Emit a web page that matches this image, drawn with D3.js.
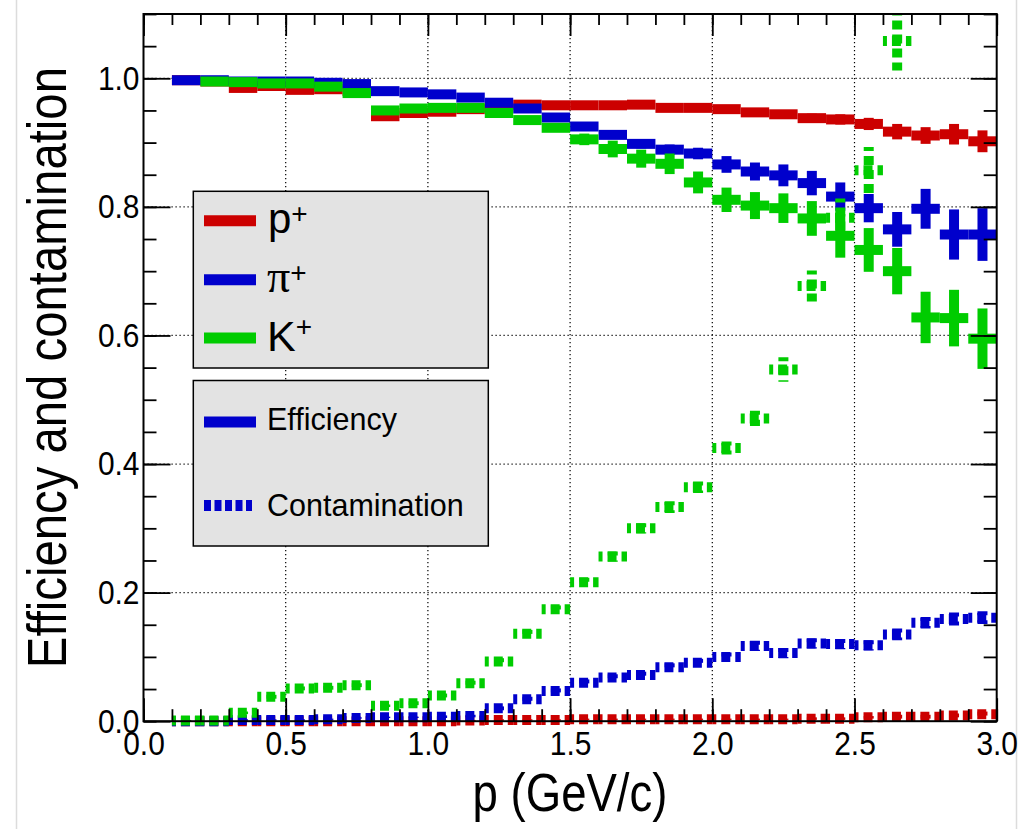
<!DOCTYPE html>
<html>
<head>
<meta charset="utf-8">
<script src="https://cdn.jsdelivr.net/npm/d3@7"></script>
<style>
  html, body { margin: 0; padding: 0; background: #fff; }
  svg { display: block; font-family: "Liberation Sans", Arial, sans-serif; }
</style>
</head>
<body>
<svg id="chart" width="1019" height="829"></svg>
<script>
// Momentum bin centres (GeV/c); every bin is 0.1 GeV/c wide
const momentum = [0.15, 0.25, 0.35, 0.45, 0.55, 0.65, 0.75, 0.85, 0.95, 1.05,
                  1.15, 1.25, 1.35, 1.45, 1.55, 1.65, 1.75, 1.85, 1.95, 2.05,
                  2.15, 2.25, 2.35, 2.45, 2.55, 2.65, 2.75, 2.85, 2.95];
const binHalfWidth = 0.05;

// Identification efficiency and its uncertainty
const protonEff    = [0.997, 0.995, 0.985, 0.988, 0.982, 0.983, 0.980, 0.941, 0.946, 0.948,
                      0.952, 0.955, 0.959, 0.958, 0.958, 0.958, 0.959, 0.954, 0.954, 0.952,
                      0.947, 0.944, 0.938, 0.936, 0.929, 0.917, 0.911, 0.913, 0.902];
const protonEffErr = [0.001, 0.001, 0.001, 0.001, 0.001, 0.001, 0.001, 0.002, 0.002, 0.002,
                      0.002, 0.002, 0.002, 0.003, 0.003, 0.003, 0.003, 0.004, 0.004, 0.005,
                      0.005, 0.006, 0.007, 0.008, 0.0095, 0.012, 0.013, 0.016, 0.017];
const pionEff      = [0.997, 0.997, 0.995, 0.995, 0.995, 0.993, 0.991, 0.980, 0.978, 0.975,
                      0.970, 0.962, 0.953, 0.939, 0.925, 0.912, 0.898, 0.889, 0.883, 0.866,
                      0.855, 0.849, 0.837, 0.816, 0.798, 0.765, 0.797, 0.757, 0.757];
const pionEffErr   = [0.001, 0.001, 0.001, 0.001, 0.001, 0.001, 0.001, 0.002, 0.002, 0.002,
                      0.002, 0.003, 0.003, 0.004, 0.004, 0.006, 0.007, 0.008, 0.009, 0.013,
                      0.014, 0.017, 0.019, 0.022, 0.022, 0.027, 0.031, 0.039, 0.041];
const kaonEff      = [null,  0.995, 0.994, 0.992, 0.992, 0.987, 0.977, 0.950, 0.953, 0.954,
                      0.954, 0.946, 0.935, 0.923, 0.905, 0.890, 0.875, 0.867, 0.838, 0.811,
                      0.802, 0.798, 0.782, 0.755, 0.733, 0.700, 0.628, 0.627, 0.595];
const kaonEffErr   = [0.001, 0.001, 0.001, 0.001, 0.001, 0.001, 0.001, 0.002, 0.002, 0.002,
                      0.003, 0.003, 0.004, 0.006, 0.009, 0.013, 0.014, 0.016, 0.017, 0.019,
                      0.021, 0.023, 0.027, 0.034, 0.034, 0.036, 0.040, 0.044, 0.047];

// Contamination of each selected sample and its uncertainty
const protonCont    = [0.000, 0.000, 0.000, 0.000, 0.000, 0.000, 0.000, 0.000, 0.000, 0.000,
                       0.001, 0.002, 0.002, 0.002, 0.003, 0.003, 0.003, 0.003, 0.003, 0.003,
                       0.003, 0.003, 0.004, 0.004, 0.006, 0.007, 0.007, 0.009, 0.011];
const protonContErr = [0.001, 0.001, 0.001, 0.001, 0.001, 0.001, 0.001, 0.001, 0.001, 0.001,
                       0.001, 0.001, 0.001, 0.001, 0.001, 0.001, 0.001, 0.001, 0.001, 0.001,
                       0.001, 0.001, 0.002, 0.002, 0.002, 0.003, 0.003, 0.003, 0.004];
const pionCont      = [0.000, 0.000, 0.002, 0.002, 0.002, 0.003, 0.005, 0.006, 0.006, 0.007,
                       0.008, 0.020, 0.034, 0.047, 0.060, 0.068, 0.072, 0.084, 0.091, 0.100,
                       0.117, 0.106, 0.121, 0.120, 0.118, 0.135, 0.153, 0.159, 0.161];
const pionContErr   = [0.001, 0.001, 0.001, 0.001, 0.001, 0.001, 0.001, 0.001, 0.001, 0.002,
                       0.002, 0.003, 0.004, 0.004, 0.005, 0.005, 0.005, 0.006, 0.006, 0.007,
                       0.008, 0.008, 0.008, 0.008, 0.008, 0.009, 0.009, 0.010, 0.010];
const kaonCont      = [0.001, 0.001, 0.013, 0.038, 0.051, 0.052, 0.056, 0.024, 0.028, 0.040,
                       0.059, 0.093, 0.136, 0.174, 0.216, 0.256, 0.300, 0.333, 0.364, 0.425,
                       0.471, 0.547, 0.677, 0.783, 0.857, 1.058, null,  null,  null];
const kaonContErr   = [0.001, 0.001, 0.002, 0.003, 0.003, 0.003, 0.003, 0.002, 0.003, 0.003,
                       0.004, 0.005, 0.006, 0.006, 0.007, 0.008, 0.008, 0.009, 0.009, 0.010,
                       0.012, 0.019, 0.024, 0.030, 0.036, 0.046, null,  null,  null];

const xTickValues = [0.0, 0.5, 1.0, 1.5, 2.0, 2.5, 3.0];
const yTickValues = [0.0, 0.2, 0.4, 0.6, 0.8, 1.0];

const colors = { proton: "#cc0000", pion: "#0000cc", kaon: "#00cc00" };

const svg = d3.select("#chart");
const W = 1019, H = 829;
const frame = { left: 143.5, right: 996.7, top: 14, bottom: 721.2 };

const x = d3.scaleLinear().domain([0, 3]).range([frame.left, frame.right]);
const y = d3.scaleLinear().domain([0, 1.1]).range([frame.bottom, frame.top]);

// canvas edges
svg.append("rect").attr("width", W).attr("height", H).attr("fill", "#fff");
[16.5, 1016.5].forEach(px => svg.append("line")
  .attr("x1", px).attr("x2", px).attr("y1", 0).attr("y2", H)
  .attr("stroke", "#dcdcdc").attr("stroke-width", 1.5));

// dotted grid at the major ticks
const grid = svg.append("g").attr("stroke", "#000").attr("stroke-width", 1.2)
  .attr("stroke-dasharray", "1.2,2.8");
grid.selectAll(null).data(xTickValues.filter(v => v > 0 && v < 3)).enter().append("line")
  .attr("x1", d => x(d)).attr("x2", d => x(d)).attr("y1", frame.top).attr("y2", frame.bottom);
grid.selectAll(null).data(yTickValues.filter(v => v > 0)).enter().append("line")
  .attr("x1", frame.left).attr("x2", frame.right).attr("y1", d => y(d)).attr("y2", d => y(d));

// clip marks at the top of the frame
svg.append("defs").append("clipPath").attr("id", "plotClip").append("rect")
  .attr("x", 0).attr("y", frame.top).attr("width", W).attr("height", H - frame.top);
const marks = svg.append("g").attr("clip-path", "url(#plotClip)");

function drawSeries(values, errors, color, dashed) {
  const pts = momentum.map((p, i) => ({ p, v: values[i], e: errors[i] }))
    .filter(d => d.v !== null);
  const g = marks.append("g")
    .attr("stroke", color).attr("stroke-width", 10).attr("stroke-linecap", "butt")
    .attr("fill", "none");
  if (dashed) g.attr("stroke-dasharray", "9,5").attr("stroke-dashoffset", 5);
  // vertical error bar
  g.selectAll(null).data(pts).enter().append("line")
    .attr("x1", d => x(d.p)).attr("x2", d => x(d.p))
    .attr("y1", d => y(d.v + d.e)).attr("y2", d => y(d.v - d.e));
  // horizontal bin-width bar
  g.selectAll(null).data(pts).enter().append("line")
    .attr("x1", d => x(d.p - binHalfWidth)).attr("x2", d => x(d.p + binHalfWidth))
    .attr("y1", d => y(d.v)).attr("y2", d => y(d.v));
}

drawSeries(protonEff, protonEffErr, colors.proton, false);
drawSeries(pionEff, pionEffErr, colors.pion, false);
drawSeries(kaonEff, kaonEffErr, colors.kaon, false);
drawSeries(protonCont, protonContErr, colors.proton, true);
drawSeries(pionCont, pionContErr, colors.pion, true);
drawSeries(kaonCont, kaonContErr, colors.kaon, true);

// axes: ticks point into the frame
const squeeze = 0.88;
const fmt = d3.format(".1f");
const xMinor = d3.range(0, 3.0001, 0.1);
const yMinor = d3.range(0, 1.1001, 0.05);

function styleAxis(g) {
  g.select(".domain").remove();
  g.selectAll("line").attr("stroke", "#000").attr("stroke-width", 1.8);
}

const gBottom = svg.append("g").attr("transform", `translate(0,${frame.bottom})`);
gBottom.append("g").call(d3.axisBottom(x).tickValues(xMinor).tickFormat("").tickSizeInner(-12).tickSizeOuter(0)).call(styleAxis);
gBottom.append("g").call(d3.axisBottom(x).tickValues(xTickValues).tickFormat(fmt)
  .tickSizeInner(-23).tickSizeOuter(0).tickPadding(10)).call(styleAxis)
  .selectAll("text").attr("font-size", 34).attr("font-family", "Liberation Sans, Arial, sans-serif")
  .attr("fill", "#000").attr("transform", `scale(${squeeze},1)`);

const gTop = svg.append("g").attr("transform", `translate(0,${frame.top})`);
gTop.append("g").call(d3.axisTop(x).tickValues(xMinor).tickFormat("").tickSizeInner(-11).tickSizeOuter(0)).call(styleAxis);
gTop.append("g").call(d3.axisTop(x).tickValues(xTickValues).tickFormat("").tickSizeInner(-22).tickSizeOuter(0)).call(styleAxis);

const gLeft = svg.append("g").attr("transform", `translate(${frame.left},0)`);
gLeft.append("g").call(d3.axisLeft(y).tickValues(yMinor).tickFormat("").tickSizeInner(-13).tickSizeOuter(0)).call(styleAxis);
gLeft.append("g").call(d3.axisLeft(y).tickValues(yTickValues).tickFormat(fmt)
  .tickSizeInner(-27).tickSizeOuter(0).tickPadding(4)).call(styleAxis)
  .selectAll("text").attr("font-size", 34).attr("font-family", "Liberation Sans, Arial, sans-serif")
  .attr("fill", "#000").attr("x", -4 / squeeze).attr("transform", `scale(${squeeze},1)`);

const gRight = svg.append("g").attr("transform", `translate(${frame.right},0)`);
gRight.append("g").call(d3.axisRight(y).tickValues(yMinor).tickFormat("").tickSizeInner(-13).tickSizeOuter(0)).call(styleAxis);
gRight.append("g").call(d3.axisRight(y).tickValues(yTickValues).tickFormat("").tickSizeInner(-26).tickSizeOuter(0)).call(styleAxis);

// frame
svg.append("rect")
  .attr("x", frame.left).attr("y", frame.top)
  .attr("width", frame.right - frame.left).attr("height", frame.bottom - frame.top)
  .attr("fill", "none").attr("stroke", "#000").attr("stroke-width", 2);

// axis titles
svg.append("text")
  .attr("transform", `translate(570,811) scale(0.86,1)`)
  .attr("text-anchor", "middle").attr("font-size", 53).attr("fill", "#000")
  .text("p (GeV/c)");
svg.append("text")
  .attr("transform", `translate(66,${(frame.top + frame.bottom) / 2}) rotate(-90) scale(0.86,1)`)
  .attr("text-anchor", "middle").attr("font-size", 55).attr("fill", "#000")
  .text("Efficiency and contamination");

// legend: particle species
const legend = svg.append("g");
legend.append("rect").attr("x", 193.3).attr("y", 191.3).attr("width", 295).attr("height", 176.7)
  .attr("fill", "#e3e3e3").attr("stroke", "#000").attr("stroke-width", 1.5);
const speciesRows = [
  { color: colors.proton, ly: 220.7 },
  { color: colors.pion,   ly: 279.7 },
  { color: colors.kaon,   ly: 338 }
];
legend.selectAll(null).data(speciesRows).enter().append("line")
  .attr("x1", 204).attr("x2", 256).attr("y1", d => d.ly).attr("y2", d => d.ly)
  .attr("stroke", d => d.color).attr("stroke-width", 11);

const pLabel = legend.append("text").attr("x", 268).attr("y", 233).attr("font-size", 42).attr("fill", "#000");
pLabel.append("tspan").text("p");
pLabel.append("tspan").attr("font-size", 28).attr("dy", -10).text("+");

const piLabel = legend.append("text").attr("x", 267).attr("y", 292).attr("font-size", 46).attr("fill", "#000");
piLabel.append("tspan").attr("font-family", "Liberation Serif, DejaVu Serif, serif").text("\u03c0");
piLabel.append("tspan").attr("font-size", 28).attr("dy", -10).text("+");

const kLabel = legend.append("text").attr("x", 267).attr("y", 351).attr("font-size", 43).attr("fill", "#000");
kLabel.append("tspan").text("K");
kLabel.append("tspan").attr("font-size", 28).attr("dy", -15).text("+");

// legend: line styles
legend.append("rect").attr("x", 193.3).attr("y", 380.5).attr("width", 295).attr("height", 165.5)
  .attr("fill", "#e3e3e3").attr("stroke", "#000").attr("stroke-width", 1.5);
legend.append("line").attr("x1", 204).attr("x2", 256).attr("y1", 422).attr("y2", 422)
  .attr("stroke", colors.pion).attr("stroke-width", 11);
legend.append("text").attr("x", 267).attr("y", 430).attr("font-size", 30.5).attr("fill", "#000").text("Efficiency");
legend.append("line").attr("x1", 204).attr("x2", 252).attr("y1", 505.5).attr("y2", 505.5)
  .attr("stroke", colors.pion).attr("stroke-width", 11).attr("stroke-dasharray", "7,3.5");
legend.append("text").attr("x", 267).attr("y", 516).attr("font-size", 30.5).attr("fill", "#000").text("Contamination");
</script>
</body>
</html>
